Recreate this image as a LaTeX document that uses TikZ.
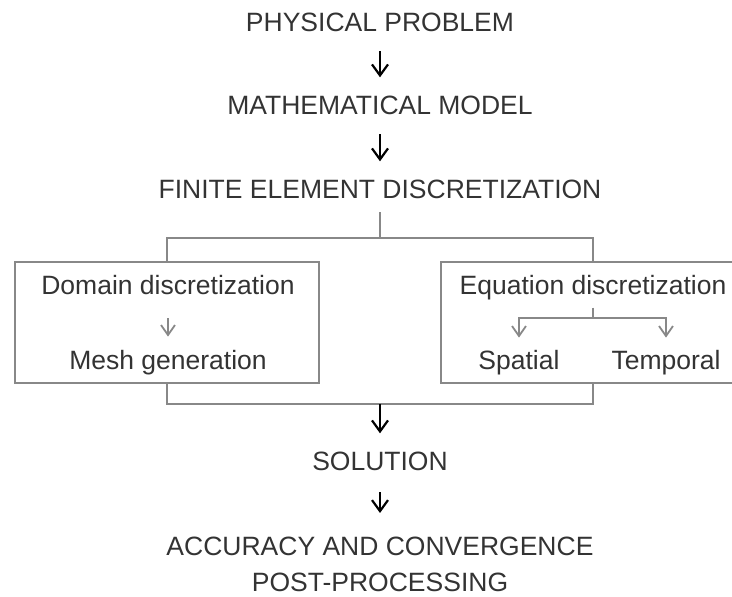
\documentclass[tikz,border=0pt]{standalone}
\usepackage{fontspec}
\setmainfont{Liberation Sans}
\usepackage{tikz}
\usetikzlibrary{arrows.meta,positioning}

\definecolor{textgray}{HTML}{333333}
\definecolor{linegray}{HTML}{888888}

\tikzset{
  title/.style={font=\fontsize{26.5}{36}\selectfont, text=textgray, inner xsep=0pt, inner ysep=19pt, anchor=base},
  boxtext/.style={font=\fontsize{26.5}{36}\selectfont, text=textgray, inner sep=0pt, anchor=base},
  stagebox/.style={draw=linegray, line width=2pt, minimum width=304pt, minimum height=121pt, inner sep=0pt},
  gline/.style={draw=linegray, line width=2pt},
  garrow/.style={draw=linegray, line width=1.8pt, -{Straight Barb[length=10pt,width=14pt]}},
  barrow/.style={draw=black, line width=2.2pt, -{Straight Barb[length=11pt,width=16pt]}},
}

\begin{document}
\begin{tikzpicture}[x=1pt,y=1pt]
	\useasboundingbox (0,0) rectangle (732,597);
	\clip (0,0) rectangle (732,597);
	% main chain
	\node[title] (phys) at (380,565) {PHYSICAL PROBLEM};
	\node[title] (math) at (380,482) {MATHEMATICAL MODEL};
	\node[title] (fed) at (380,398) {FINITE ELEMENT DISCRETIZATION};
	\node[title] (sol) at (380,126) {SOLUTION};
	\node[title, align=center, anchor=north, inner ysep=24pt] (acc) at (380,84) {ACCURACY AND CONVERGENCE\\POST-PROCESSING};
	% the two boxes
	\node[stagebox] (domainbox) at (167,274.5) {};
	\node[stagebox] (eqbox) at (593,274.5) {};
	\node[boxtext] (domain) at (168,302) {Domain discretization};
	\node[boxtext] (mesh) at (168,227) {Mesh generation};
	\node[boxtext] (eq) at (593,302) {Equation discretization};
	\node[boxtext] (spatial) at (519,227) {Spatial};
	\node[boxtext] (temporal) at (666,227) {Temporal};
	\coordinate (fesplit) at (380,359);
	\coordinate (join) at (380,193);
	\coordinate (eqsplit) at (593,279);
	% connectors
	\draw[barrow] (phys) -- (math);
	\draw[barrow] (math) -- (fed);
	\draw[gline, shorten <=-6pt] (fed) -- (fesplit);
	\draw[gline] (domainbox.north) |- (fesplit) -| (eqbox.north);
	\draw[garrow, shorten <=23pt, shorten >=14pt] (domain) -- (mesh);
	\draw[gline, shorten <=7pt] (eq) -- (eqsplit);
	\draw[garrow, shorten >=13pt] (eqsplit) -| (spatial);
	\draw[garrow, shorten >=13pt] (eqsplit) -| (temporal);
	\draw[gline] (domainbox.south) |- (join) -| (eqbox.south);
	\draw[barrow] (join) -- (sol);
	\draw[barrow, shorten <=2pt] (sol) -- (acc);
\end{tikzpicture}
\end{document}
